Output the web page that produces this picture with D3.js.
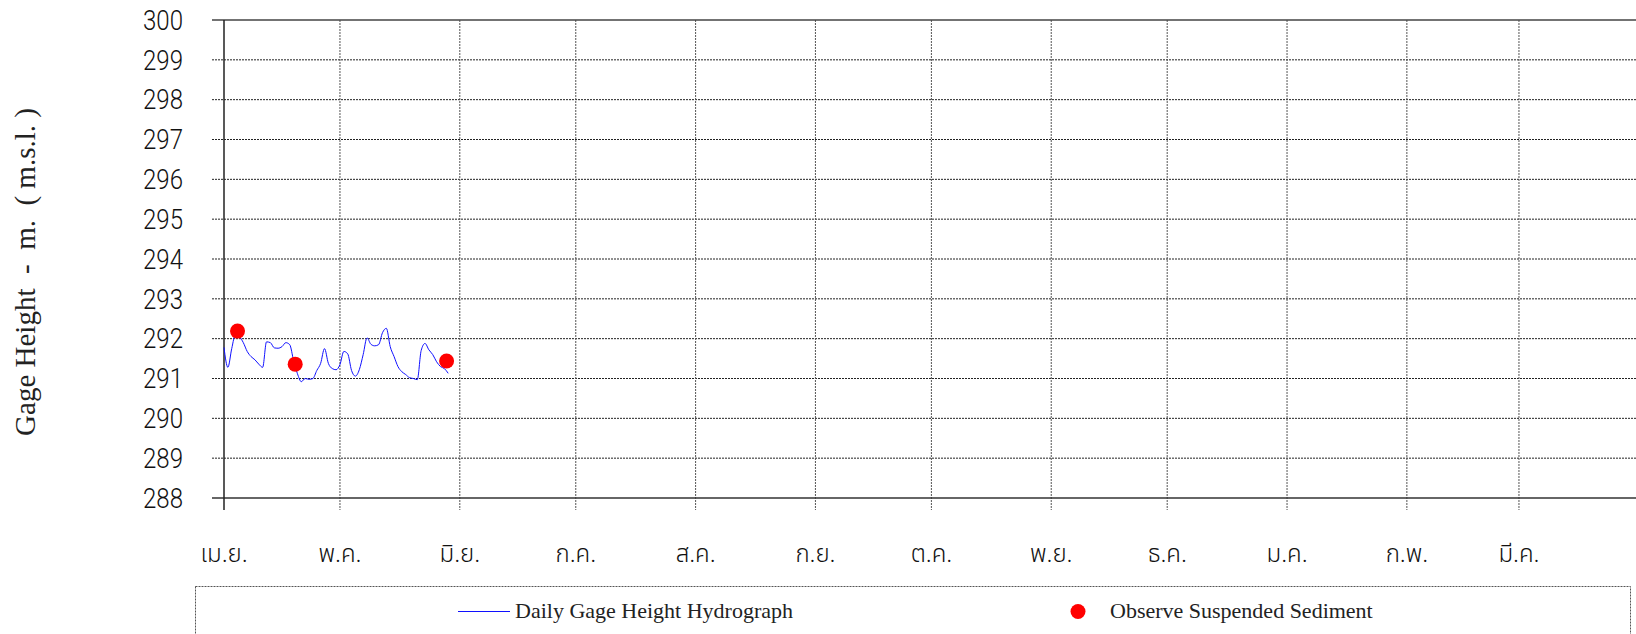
<!DOCTYPE html>
<html>
<head>
<meta charset="utf-8">
<script src="https://cdn.jsdelivr.net/npm/d3@7"></script>
<style>
  body { margin: 0; background: #fff; }
  svg { display: block; }
</style>
</head>
<body>
<div id="chart"></div>
<script>
// month labels (Thai water year, Apr - Mar)
var monthLabels = ["เม.ย.", "พ.ค.", "มิ.ย.", "ก.ค.", "ส.ค.", "ก.ย.", "ต.ค.", "พ.ย.", "ธ.ค.", "ม.ค.", "ก.พ.", "มี.ค."];
var yTicks = [288, 289, 290, 291, 292, 293, 294, 295, 296, 297, 298, 299, 300];

// daily gage height from 1 Apr
var startDate = "2023-04-01";
var gageHeight = [291.78, 291.28, 291.75, 292.12, 292.05, 291.90, 291.68, 291.55, 291.47, 291.36,
  291.28, 291.92, 291.90, 291.77, 291.76, 291.80, 291.90, 291.85, 291.45, 291.12,
  290.92, 291.00, 290.98, 291.00, 291.20, 291.38, 291.75, 291.38, 291.25, 291.22,
  291.35, 291.68, 291.62, 291.20, 291.06, 291.22, 291.60, 292.02, 291.86, 291.82,
  291.85, 292.15, 292.26, 291.80, 291.55, 291.30, 291.17, 291.10, 291.02, 291.00,
  290.97, 291.70, 291.88, 291.72, 291.60, 291.42, 291.30, 291.25, 291.13];

// observed suspended sediment samples
var sedimentDates = ["2023-04-04T12:00", "2023-04-19T10:00", "2023-05-28T14:00"];
var sedimentHeights = [292.19, 291.36, 291.44];

var W = 1636, H = 634;
var svg = d3.select("#chart").append("svg").attr("width", W).attr("height", H);

var x = d3.scaleUtc()
  .domain([new Date("2023-04-01T00:00Z"), new Date("2024-04-01T00:00Z")])
  .range([224, 1638.8]);
var y = d3.scaleLinear().domain([288, 300]).range([498, 20]);

var t0 = new Date(startDate + "T00:00Z");
var daily = gageHeight.map(function(v, i) {
  return { date: d3.utcDay.offset(t0, i), value: v };
});
var samples = sedimentDates.map(function(d, i) {
  return { date: new Date(d + "Z"), value: sedimentHeights[i] };
});
var months = d3.utcMonth.range(x.domain()[0], x.domain()[1]);

// horizontal grid + left ticks
svg.append("g").selectAll("line")
  .data(yTicks.filter(function(d) { return d != 288 && d != 300; }))
  .enter().append("line")
  .attr("x1", 212).attr("x2", W)
  .attr("y1", function(d) { return y(d); }).attr("y2", function(d) { return y(d); })
  .attr("stroke", "#222").attr("stroke-width", 1).attr("stroke-dasharray", "2,1");

// vertical grid
svg.append("g").selectAll("line")
  .data(months.slice(1))
  .enter().append("line")
  .attr("x1", function(d) { return x(d); }).attr("x2", function(d) { return x(d); })
  .attr("y1", 20).attr("y2", 510)
  .attr("stroke", "#555").attr("stroke-width", 1).attr("stroke-dasharray", "2,1");

// frame
svg.append("line").attr("x1", 212).attr("x2", W).attr("y1", 20).attr("y2", 20)
  .attr("stroke", "#444").attr("stroke-width", 1.5);
svg.append("line").attr("x1", 212).attr("x2", W).attr("y1", 498).attr("y2", 498)
  .attr("stroke", "#333").attr("stroke-width", 1.5);
svg.append("line").attr("x1", 224).attr("x2", 224).attr("y1", 20).attr("y2", 510)
  .attr("stroke", "#222").attr("stroke-width", 1.5);

// y tick labels
svg.append("g").selectAll("text")
  .data(yTicks).enter().append("text")
  .attr("x", 183).attr("y", function(d) { return y(d); })
  .attr("dy", "0.36em")
  .attr("text-anchor", "end")
  .attr("textLength", 40)
  .attr("lengthAdjust", "spacingAndGlyphs")
  .style("font-family", "Roboto, 'Liberation Sans', sans-serif")
  .style("font-weight", 300)
  .style("font-size", "27px")
  .attr("fill", "#111")
  .text(function(d) { return d; });

// month labels
svg.append("g").selectAll("text")
  .data(months).enter().append("text")
  .attr("x", function(d) { return x(d); }).attr("y", 562)
  .attr("text-anchor", "middle")
  .style("font-family", "'Noto Sans Thai', 'Noto Sans', sans-serif")
  .style("font-size", "24px")
  .style("font-weight", 300)
  .attr("fill", "#111")
  .text(function(d, i) { return monthLabels[i]; });

// y axis title
svg.append("text")
  .attr("transform", "translate(35,272) rotate(-90)")
  .attr("text-anchor", "middle")
  .style("font-family", "'Liberation Serif', serif")
  .style("font-size", "29px")
  .attr("fill", "#222")
  .attr("xml:space", "preserve")
  .text("Gage Height  -  m.  ( m.s.l. )");

// hydrograph
var line = d3.line()
  .x(function(d) { return x(d.date); })
  .y(function(d) { return y(d.value); })
  .curve(d3.curveMonotoneX);
svg.append("path").datum(daily)
  .attr("d", line)
  .attr("fill", "none")
  .attr("stroke", "#1010ff")
  .attr("stroke-width", 1);

// sediment samples
svg.append("g").selectAll("circle")
  .data(samples).enter().append("circle")
  .attr("cx", function(d) { return x(d.date); })
  .attr("cy", function(d) { return y(d.value); })
  .attr("r", 7.5)
  .attr("fill", "#ff0000");

// legend
var legend = svg.append("g");
legend.append("rect")
  .attr("x", 195.5).attr("y", 586.5).attr("width", 1435).attr("height", 60)
  .attr("fill", "none").attr("stroke", "#555").attr("stroke-dasharray", "2,1");
legend.append("line")
  .attr("x1", 458).attr("x2", 510).attr("y1", 611.5).attr("y2", 611.5)
  .attr("stroke", "#1010ff").attr("stroke-width", 1);
legend.append("text")
  .attr("x", 515).attr("y", 618)
  .style("font-family", "'Liberation Serif', serif")
  .style("font-size", "22px")
  .attr("fill", "#222")
  .text("Daily Gage Height Hydrograph");
legend.append("circle")
  .attr("cx", 1078).attr("cy", 611.5).attr("r", 7.5)
  .attr("fill", "#ff0000");
legend.append("text")
  .attr("x", 1110).attr("y", 618)
  .style("font-family", "'Liberation Serif', serif")
  .style("font-size", "22px")
  .attr("fill", "#222")
  .text("Observe Suspended Sediment");
</script>
</body>
</html>
